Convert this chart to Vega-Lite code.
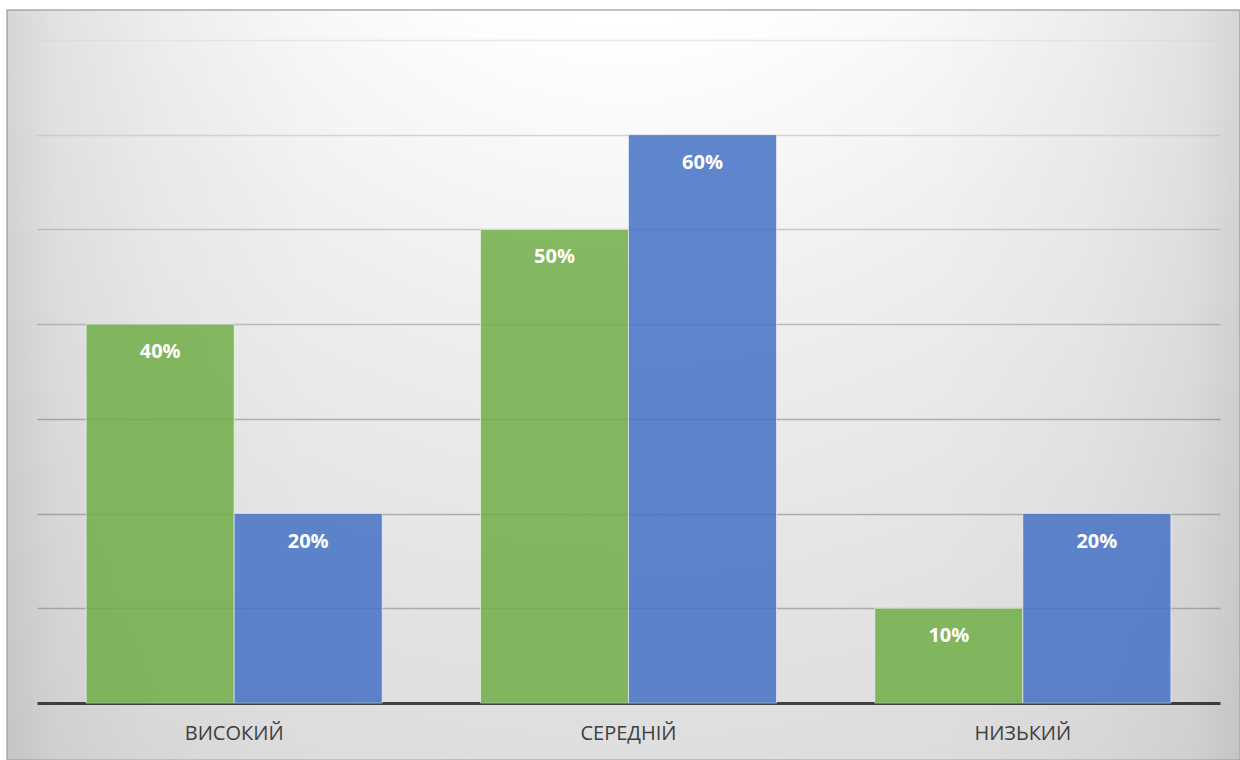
{
  "$schema": "https://vega.github.io/schema/vega-lite/v6.json",
  "width": 1233,
  "height": 750,
  "autosize": "none",
  "padding": {"left": 7, "top": 10, "right": 0, "bottom": 0},
  "background": "#ffffff",
  "layer": [
    {
      "data": {"values": [{"panel": "plot"}]},
      "mark": {
        "type": "rect",
        "strokeWidth": 0,
        "fill": {
          "gradient": "linear",
          "x1": 0, "y1": 0.5, "x2": 1, "y2": 0.5,
          "stops": [
            {"offset": 0, "color": "rgba(0,0,0,0.09)"},
            {"offset": 0.04, "color": "rgba(0,0,0,0.045)"},
            {"offset": 0.12, "color": "rgba(0,0,0,0.015)"},
            {"offset": 0.25, "color": "rgba(0,0,0,0)"},
            {"offset": 0.75, "color": "rgba(0,0,0,0)"},
            {"offset": 0.88, "color": "rgba(0,0,0,0.015)"},
            {"offset": 0.96, "color": "rgba(0,0,0,0.045)"},
            {"offset": 1, "color": "rgba(0,0,0,0.09)"}
          ]
        }
      },
      "encoding": {}
    },
    {
      "data": {
        "values": [
          {"level": "ВИСОКИЙ", "series": "ряд 1", "share": 0.4},
          {"level": "ВИСОКИЙ", "series": "ряд 2", "share": 0.2},
          {"level": "СЕРЕДНІЙ", "series": "ряд 1", "share": 0.5},
          {"level": "СЕРЕДНІЙ", "series": "ряд 2", "share": 0.6},
          {"level": "НИЗЬКИЙ", "series": "ряд 1", "share": 0.1},
          {"level": "НИЗЬКИЙ", "series": "ряд 2", "share": 0.2}
        ]
      },
      "encoding": {
        "x": {
          "field": "level",
          "type": "nominal",
          "sort": ["ВИСОКИЙ", "СЕРЕДНІЙ", "НИЗЬКИЙ"],
          "scale": {"range": [30, 1213], "paddingInner": 0, "paddingOuter": 0},
          "axis": {
            "title": null,
            "orient": "bottom",
            "offset": -57,
            "domain": false,
            "ticks": false,
            "labelAngle": 0,
            "labelPadding": 30,
            "labelBaseline": "middle",
            "labelFont": "Open Sans",
            "labelFontSize": 20,
            "labelColor": "#404040"
          }
        },
        "xOffset": {
          "field": "series",
          "type": "nominal",
          "scale": {"paddingInner": 0, "paddingOuter": 0.332}
        },
        "y": {
          "field": "share",
          "type": "quantitative",
          "scale": {"domain": [0, 0.7], "range": [693, 30], "nice": false},
          "axis": {
            "title": null,
            "labels": false,
            "ticks": false,
            "domain": false,
            "values": [0, 0.1, 0.2, 0.3, 0.4, 0.5, 0.6, 0.7],
            "grid": true,
            "gridColor": {
              "condition": [
                {"test": "datum.value === 0", "value": "#404040"},
                {"test": "datum.value > 0.65", "value": "#e6e6e6"},
                {"test": "datum.value > 0.55", "value": "#d4d4d4"},
                {"test": "datum.value > 0.45", "value": "#c6c6c6"},
                {"test": "datum.value > 0.35", "value": "#bababa"}
              ],
              "value": "#adadad"
            },
            "gridWidth": {"condition": {"test": "datum.value === 0", "value": 3}, "value": 1.6}
          }
        }
      },
      "layer": [
        {
          "mark": {"type": "bar", "fillOpacity": 0.85, "stroke": "#ffffff", "strokeOpacity": 0.55, "strokeWidth": 1},
          "encoding": {
            "color": {
              "field": "series",
              "type": "nominal",
              "scale": {"domain": ["ряд 1", "ряд 2"], "range": ["#70AD47", "#4472C4"]},
              "legend": null
            }
          }
        },
        {
          "mark": {"type": "text", "baseline": "middle", "dy": 28, "font": "Open Sans", "fontSize": 20, "fontWeight": "bold", "color": "#ffffff"},
          "encoding": {
            "text": {"field": "share", "type": "quantitative", "format": ".0%"}
          }
        }
      ]
    }
  ],
  "config": {
    "view": {
      "stroke": "#c0c0c0",
      "strokeWidth": 2,
      "fill": {
        "gradient": "radial",
        "x1": 0.5, "y1": 0, "r1": 0,
        "x2": 0.5, "y2": 0, "r2": 1.23,
        "stops": [
          {"offset": 0, "color": "#ffffff"},
          {"offset": 0.17, "color": "#ffffff"},
          {"offset": 0.38, "color": "#eeeeee"},
          {"offset": 0.6, "color": "#e1e1e1"},
          {"offset": 0.81, "color": "#d6d6d6"},
          {"offset": 1, "color": "#cbcbcb"}
        ]
      }
    }
  }
}
